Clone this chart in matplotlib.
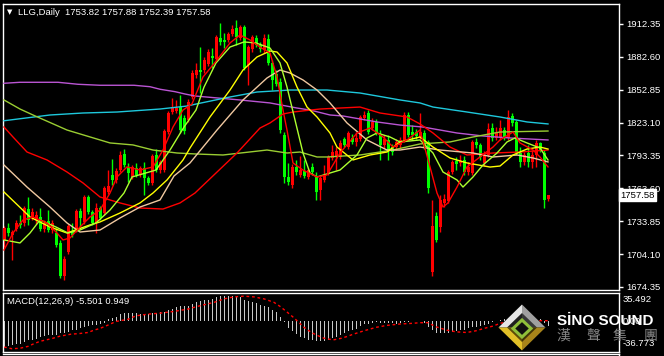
import matplotlib
matplotlib.use("Agg")
import matplotlib.pyplot as plt
from matplotlib.patches import Polygon
from matplotlib.lines import Line2D

plt.rcParams['font.family'] = ['Liberation Sans', 'DejaVu Sans']

# daily candles, LLG (red = up, green = down, MT4 chinese style)
opens = [
    1716.9, 1727.7, 1721.4, 1726.8, 1732.3, 1732.3, 1744.9, 1737.7, 1735.0, 1737.7,
    1726.8, 1734.1, 1725.9, 1723.2, 1714.2, 1684.3, 1706.0, 1724.1, 1726.8, 1743.1,
    1733.2, 1755.8, 1742.2, 1732.3, 1745.8, 1741.3, 1760.3, 1775.7, 1771.2, 1780.2,
    1794.7, 1782.9, 1773.9, 1782.0, 1775.7, 1782.0, 1773.0, 1768.5, 1793.8, 1780.2,
    1780.2, 1814.6, 1832.7, 1833.6, 1837.2, 1827.3, 1825.5, 1846.3, 1866.2, 1870.7,
    1870.7, 1876.2, 1883.4, 1880.7, 1899.7, 1897.9, 1897.9, 1903.3, 1908.7, 1899.7,
    1909.6, 1875.2, 1889.7, 1899.7, 1893.3, 1888.8, 1898.8, 1877.0, 1867.1, 1859.9,
    1811.9, 1773.9, 1766.6, 1782.9, 1775.7, 1779.3, 1773.9, 1782.9, 1773.9, 1762.1,
    1771.2, 1777.5, 1791.1, 1792.0, 1792.0, 1808.3, 1801.0, 1809.2, 1805.6, 1808.3,
    1827.3, 1831.8, 1818.2, 1823.7, 1811.9, 1802.9, 1807.4, 1801.0, 1801.0, 1802.9,
    1807.4, 1830.0, 1814.6, 1814.6, 1810.1, 1813.7, 1805.6, 1687.9, 1738.6, 1728.6,
    1750.4, 1752.2, 1778.4, 1788.4, 1786.6, 1789.3, 1778.4, 1777.5, 1805.6, 1802.9,
    1786.6, 1793.8, 1818.2, 1809.2, 1809.2, 1816.4, 1809.2, 1829.1, 1823.7, 1795.6,
    1787.5, 1795.6, 1787.5, 1793.8, 1804.7, 1795.6, 1753.82]
highs = [
    1729.5, 1732.3, 1725.9, 1735.0, 1739.5, 1747.6, 1755.8, 1745.8, 1743.1, 1745.8,
    1735.0, 1744.0, 1735.0, 1727.7, 1716.9, 1702.4, 1731.4, 1732.3, 1744.9, 1745.8,
    1757.6, 1757.6, 1744.0, 1750.4, 1747.6, 1765.7, 1780.2, 1790.2, 1782.0, 1797.4,
    1799.2, 1786.6, 1784.8, 1786.6, 1783.8, 1787.5, 1774.8, 1794.7, 1799.2, 1789.3,
    1817.3, 1833.6, 1845.4, 1843.6, 1848.1, 1830.0, 1844.5, 1870.7, 1877.1, 1891.5,
    1882.5, 1889.7, 1890.6, 1902.4, 1913.3, 1904.2, 1905.1, 1911.5, 1916.0, 1911.5,
    1911.5, 1893.3, 1902.4, 1902.4, 1896.1, 1903.3, 1903.3, 1879.8, 1870.7, 1863.5,
    1814.6, 1786.6, 1785.6, 1789.3, 1792.9, 1789.3, 1782.0, 1786.6, 1778.4, 1774.8,
    1784.8, 1793.8, 1802.9, 1801.0, 1807.4, 1810.1, 1815.5, 1812.8, 1814.6, 1830.0,
    1833.6, 1834.5, 1827.3, 1826.4, 1816.4, 1811.9, 1811.9, 1803.8, 1808.3, 1810.1,
    1832.7, 1832.7, 1820.9, 1817.3, 1831.8, 1816.4, 1807.4, 1753.1, 1742.2, 1757.6,
    1758.5, 1780.2, 1789.3, 1792.0, 1793.8, 1792.9, 1787.5, 1807.4, 1809.2, 1804.7,
    1797.4, 1822.7, 1822.7, 1819.1, 1825.5, 1819.1, 1834.5, 1831.8, 1825.5, 1801.0,
    1796.5, 1802.9, 1798.3, 1807.4, 1805.6, 1798.3, 1757.88]
lows = [
    1710.5, 1720.5, 1698.8, 1725.0, 1727.7, 1729.5, 1730.5, 1735.0, 1731.4, 1725.0,
    1724.1, 1724.1, 1723.2, 1710.5, 1682.5, 1680.7, 1704.2, 1719.6, 1724.1, 1728.6,
    1731.4, 1740.4, 1730.5, 1723.2, 1735.0, 1739.5, 1758.5, 1766.6, 1768.5, 1778.4,
    1782.9, 1769.4, 1772.1, 1773.9, 1773.9, 1757.6, 1766.6, 1766.6, 1778.4, 1777.5,
    1778.4, 1812.8, 1830.9, 1831.8, 1813.7, 1812.8, 1823.7, 1844.5, 1863.5, 1849.9,
    1868.0, 1874.3, 1872.5, 1878.9, 1893.3, 1890.6, 1896.1, 1901.5, 1893.3, 1897.9,
    1870.7, 1857.2, 1887.0, 1891.5, 1887.0, 1886.1, 1875.2, 1852.6, 1856.2, 1813.7,
    1768.5, 1766.6, 1763.9, 1775.7, 1773.9, 1773.0, 1772.1, 1775.7, 1753.1, 1753.1,
    1769.4, 1775.7, 1789.3, 1780.2, 1790.2, 1801.0, 1799.2, 1803.8, 1801.9, 1806.5,
    1825.5, 1812.8, 1816.4, 1811.9, 1789.3, 1800.1, 1789.3, 1793.8, 1798.3, 1800.1,
    1805.6, 1810.1, 1807.4, 1808.3, 1808.3, 1799.2, 1759.4, 1684.3, 1715.1, 1724.1,
    1746.7, 1750.4, 1776.6, 1780.2, 1783.8, 1775.7, 1775.7, 1775.7, 1800.1, 1789.3,
    1783.8, 1792.0, 1806.5, 1807.4, 1807.4, 1807.4, 1807.4, 1820.0, 1793.8, 1782.9,
    1784.8, 1782.9, 1782.0, 1782.9, 1796.5, 1745.6, 1752.39]
closes = [
    1727.7, 1723.2, 1724.1, 1732.3, 1730.5, 1745.8, 1735.0, 1742.2, 1739.5, 1726.8,
    1732.3, 1725.9, 1732.3, 1712.4, 1684.3, 1699.7, 1729.5, 1721.4, 1743.1, 1736.8,
    1755.8, 1742.2, 1732.3, 1745.8, 1736.8, 1763.9, 1765.7, 1771.2, 1779.3, 1793.8,
    1784.8, 1777.5, 1782.9, 1775.7, 1782.0, 1773.0, 1768.5, 1792.9, 1780.2, 1787.5,
    1815.5, 1831.8, 1837.2, 1836.3, 1816.4, 1815.5, 1841.8, 1868.0, 1870.7, 1868.9,
    1879.8, 1887.0, 1881.6, 1900.6, 1896.1, 1896.1, 1903.3, 1907.8, 1900.6, 1909.6,
    1872.5, 1891.5, 1900.6, 1893.3, 1889.7, 1899.7, 1877.0, 1861.7, 1858.1, 1816.4,
    1773.9, 1769.4, 1782.9, 1778.4, 1780.2, 1774.8, 1780.2, 1778.4, 1760.3, 1773.0,
    1775.7, 1792.0, 1796.5, 1797.4, 1804.7, 1802.9, 1813.7, 1805.6, 1809.2, 1828.2,
    1830.0, 1814.6, 1823.7, 1813.7, 1802.9, 1808.3, 1798.3, 1796.5, 1805.6, 1807.4,
    1830.0, 1811.9, 1811.9, 1811.0, 1814.6, 1801.0, 1763.9, 1729.5, 1716.9, 1753.1,
    1754.0, 1778.4, 1787.5, 1785.6, 1788.4, 1778.4, 1782.9, 1805.6, 1802.9, 1792.0,
    1793.8, 1817.3, 1809.2, 1813.7, 1818.2, 1810.1, 1828.2, 1822.8, 1795.6, 1787.5,
    1793.8, 1787.5, 1793.8, 1804.7, 1798.3, 1753.1, 1757.58]

# moving average lines (bar index, price)
ma_fast_x = [0, 2.25, 4.75, 7.25, 10.75, 13.25, 14.75, 16.5, 19, 21.5, 24, 26.5, 28.25, 30.75, 34,
             37.25, 39.75, 42.25, 44.75, 47, 49.75, 53.25, 56.5, 59, 61.5, 64, 66.5, 68.25, 69.75, 70.75,
             72.25, 74.75, 78.25, 80.75, 84, 88.25, 91.5, 94.75, 97.25, 100.75, 104, 106.5, 108.25, 109.75, 111,
             113.25, 115.75, 119, 122.25, 124, 127.25, 129, 132.25, 134, 136]
ma_fast_y = [1707.8, 1723.2, 1735.0, 1737.7, 1732.3, 1723.2, 1716.9, 1718.7, 1728.6, 1737.7,
             1744.0, 1759.4, 1773.9, 1783.0, 1780.2, 1783.0, 1798.3, 1819.1, 1834.5, 1840.0,
             1864.4, 1879.8, 1895.2, 1902.4, 1897.9, 1891.5, 1886.1, 1864.4, 1834.5, 1816.4,
             1786.6, 1780.2, 1773.9, 1775.7, 1795.6, 1813.7, 1818.2, 1810.1, 1801.0, 1807.4,
             1816.4, 1783.0, 1759.4, 1746.7, 1750.4, 1764.8, 1783.0, 1792.0, 1801.0, 1807.4,
             1814.6, 1804.7, 1798.3, 1792.0, 1783.0]

ma_lime_x = [0, 4, 6.5, 9, 13, 16, 19, 23, 26.5, 30, 32, 38, 41.5, 45, 48, 50, 53, 56.5, 60, 63,
             66.5, 69, 70.75, 72.75, 74.75, 76.5, 78.25, 81.5, 84, 88.25, 90.75, 93.25, 96.5, 99, 104,
             107.25, 109.75, 113.25, 114.75, 117.25, 119.75, 123.25, 125.75, 127.75, 130.75, 134, 136]
ma_lime_y = [1716.9, 1714.2, 1723.2, 1735.0, 1728.6, 1723.2, 1725.9, 1732.3, 1744.0, 1759.4,
             1773.9, 1780.2, 1798.3, 1819.1, 1834.5, 1855.3, 1877.1, 1891.5, 1896.1, 1895.2,
             1890.6, 1877.1, 1855.3, 1825.5, 1795.6, 1777.5, 1773.9, 1777.5, 1780.2, 1793.8,
             1809.2, 1813.7, 1810.1, 1805.6, 1807.4, 1795.6, 1778.4, 1771.2, 1764.8, 1773.9,
             1784.8, 1795.6, 1805.6, 1809.2, 1804.7, 1800.1, 1789.3]

ma_yellow_x = [0, 6.5, 11.5, 15.75, 21.5, 24, 29, 34, 37.25, 40.75, 44.75, 46.5, 51.5, 56.5, 59.75,
               63.25, 66.5, 68.25, 70.75, 73.25, 75.75, 78.25, 81.5, 83.25, 87.25, 91.5, 95.75, 99, 104,
               107.25, 111.5, 115.75, 121.5, 124, 127.25, 130.75, 134, 136]
ma_yellow_y = [1760.3, 1737.7, 1728.6, 1723.2, 1730.5, 1733.2, 1741.3, 1750.4, 1759.4, 1771.2,
               1789.3, 1800.1, 1828.2, 1852.6, 1870.7, 1882.5, 1887.9, 1887.0, 1877.1, 1855.3,
               1837.2, 1828.2, 1813.7, 1801.0, 1789.3, 1793.8, 1796.5, 1805.6, 1810.1, 1801.0,
               1791.1, 1786.6, 1782.9, 1783.8, 1793.8, 1799.2, 1801.0, 1799.2]

ma_tan_x = [0, 5.75, 11.5, 15.75, 19, 24, 29, 34, 39, 42.5, 46.5, 53.25, 59.75, 65.75, 69, 71.5,
            74.75, 78.25, 81.5, 85.75, 90.75, 95.75, 99, 104, 109, 117.25, 122.25, 128.25, 132.25, 136]
ma_tan_y = [1784.7, 1764.8, 1746.7, 1732.3, 1724.1, 1725.9, 1736.8, 1746.7, 1753.1, 1774.8,
            1786.6, 1816.4, 1843.6, 1863.5, 1870.7, 1868.0, 1861.7, 1852.6, 1840.9, 1822.8,
            1807.4, 1798.3, 1798.3, 1801.0, 1798.3, 1795.6, 1792.0, 1793.8, 1791.1, 1787.5]

ma_red_x = [0, 2.25, 5.75, 10.75, 15.75, 19.75, 24, 29, 34, 39.75, 44, 47.75, 58.25, 64, 66.5,
            69.75, 72.25, 79, 89, 94, 100.75, 104, 107.25, 111.5, 115.75, 122.25, 129, 136]
ma_red_y = [1819.1, 1810.1, 1796.5, 1789.3, 1778.4, 1768.5, 1755.8, 1750.4, 1745.8, 1744.9,
            1750.4, 1759.4, 1795.6, 1818.2, 1822.8, 1830.9, 1832.7, 1835.4, 1837.2, 1831.8,
            1828.2, 1821.9, 1813.7, 1801.0, 1793.8, 1795.6, 1796.5, 1798.3]

ma_olive_x = [0, 4, 7.25, 15.75, 26.5, 32.25, 37.25, 43.25, 48, 54.75, 65.75, 70.75, 74, 78.25,
              80.75, 89, 97.25, 104, 111.5, 117.25, 124, 136]
ma_olive_y = [1843.6, 1835.4, 1830.0, 1816.4, 1804.7, 1802.9, 1798.3, 1795.6, 1794.7, 1793.8,
              1798.3, 1795.6, 1796.5, 1792.0, 1792.0, 1793.8, 1798.3, 1803.8, 1805.6, 1810.1,
              1814.6, 1815.5]

ma_cyan_x = [0, 11.5, 19.75, 28.25, 39, 45.75, 48, 56.5, 63.25, 71.5, 80.75, 89, 99, 104, 107.25,
             115.75, 124, 130.75, 136]
ma_cyan_y = [1824.8, 1830.0, 1831.8, 1832.7, 1835.4, 1838.1, 1839.9, 1846.3, 1850.8, 1852.6,
             1852.6, 1849.9, 1843.6, 1840.9, 1837.2, 1832.7, 1828.2, 1823.7, 1821.9]

ma_purple_x = [0, 4, 13.5, 18.5, 24, 32.5, 36.5, 39, 42.75, 45.25, 47.75, 59, 66.5, 73.25, 76.5,
               81.5, 84.75, 93.25, 99, 104.75, 113.25, 119.75, 126.5, 136]
ma_purple_y = [1858.7, 1859.6, 1859.6, 1857.8, 1856.9, 1856.9, 1855.6, 1853.3, 1851.1, 1849.0,
               1847.2, 1843.6, 1840.9, 1836.3, 1834.5, 1830.0, 1829.1, 1823.7, 1820.9, 1819.1,
               1813.7, 1811.0, 1809.2, 1807.4]

# MACD(12,26,9) main value per bar and signal line
macd_hist = [
    -31.3, -30.5, -29.3, -28.0, -27.2, -25.1, -23.0, -22.2, -20.9, -18.9,
    -18.0, -16.8, -16.8, -16.0, -14.7, -14.0, -12.7, -10.6, -10.0, -8.5,
    -7.3, -5.2, -4.4, -4.4, -3.1, -1.5, 2.5, 3.7, 5.4, 9.0,
    10.2, 10.2, 10.2, 10.2, 9.6, 9.2, 9.6, 10.2, 10.2, 11.0,
    11.4, 13.5, 15.2, 17.7, 18.6, 18.6, 19.3, 21.8, 23.4, 24.7,
    25.9, 26.8, 27.7, 30.1, 30.9, 31.6, 30.9, 30.9, 30.9, 30.1,
    25.9, 24.7, 23.4, 22.6, 20.6, 19.3, 17.7, 13.5, 11.0, 6.0,
    -1.0, -7.5, -11.5, -15.5, -18.5, -20.7, -22.6, -22.6, -23.9, -23.9,
    -23.9, -22.6, -20.7, -18.5, -16.4, -14.3, -11.4, -10.2, -9.0, -6.0,
    -3.5, -2.5, -1.7, -1.0, -2.0, -2.0, -1.7, -2.0, -2.5, -1.7,
    -1.0, -0.5, 0.5, 0.5, 0.3, -1.5, -6.5, -10.6, -14.0, -14.7,
    -14.7, -14.0, -12.7, -11.4, -10.6, -10.0, -8.5, -7.3, -6.5, -5.6,
    -4.4, -3.0, -1.0, 0.5, 2.0, 3.0, 4.0, 5.0, 4.5, 3.5,
    3.0, 3.0, 2.5, 3.0, 3.0, -1.5, -5.5]
signal_x = [0, 2, 4, 6, 7.5, 9, 12, 14, 16.7, 19, 21, 22.5, 24, 26, 28, 31, 33, 36, 39, 42.5, 46, 49,
            52.5, 55, 57.5, 60, 62.5, 65, 67.5, 69, 70.7, 72.3, 73.6, 75, 76.7, 78, 80, 82.3, 84.4,
            85.7, 87.3, 90, 93, 95.7, 99, 102, 104, 106, 108, 110.7, 113, 115.7, 118, 120, 122.3,
            124, 126.5, 132, 136]
signal_y = [-31.3, -33.4, -32.8, -30.5, -27.2, -24.3, -20.9, -18.0, -15.6, -14.7, -13.5, -10.6,
            -8.5, -4.4, 0.0, 2.7, 6.9, 9.0, 10.2, 12.3, 15.2, 19.3, 23.4, 27.7, 30.1, 31.0, 30.1,
            27.7, 23.4, 18.5, 11.8, 5.2, -0.6, -7.2, -13.0, -16.4, -20.5, -22.6, -20.5, -18.5,
            -15.6, -11.4, -7.2, -4.8, -3.1, -2.3, -1.5, -1.5, -6.5, -10.6, -12.7, -13.5, -11.4,
            -8.5, -5.6, -2.3, 0.0, 1.0, 0.949]

price_ticks = [1674.35, 1704.10, 1733.85, 1763.60, 1793.35, 1823.10, 1852.85, 1882.60, 1912.35]
macd_labels = ['35.492', '0.00', '-36.773']

W, H = 664, 356
fig = plt.figure(figsize=(W / 100, H / 100), dpi=100, facecolor='black')


def box(x0, y0, x1, y1):
    # pixel box (from top left) -> axes
    return fig.add_axes([x0 / W, 1 - y1 / H, (x1 - x0) / W, (y1 - y0) / H])


ax = box(3, 4, 619, 289.5)
ax.set_facecolor('black')
ax.set_xlim(-0.25, 153.75)
ax.set_ylim(1672.07, 1930.45)

n = len(opens)
xs = list(range(n))
cols = ['#ff0000' if closes[i] > opens[i] else '#00ff00' for i in xs]
ax.vlines(xs, lows, highs, colors=cols, lw=1, zorder=2)
bottoms = [min(opens[i], closes[i]) for i in xs]
heights = [max(abs(closes[i] - opens[i]), 0.9) for i in xs]
ax.bar(xs, heights, bottom=bottoms, width=0.75, color=cols, lw=0, zorder=3)

# moving averages drawn on top of the bars
ax.plot(ma_purple_x, ma_purple_y, color='#ba55d3', lw=1, zorder=4)
ax.plot(ma_cyan_x, ma_cyan_y, color='#1ec8dc', lw=1, zorder=4)
ax.plot(ma_olive_x, ma_olive_y, color='#9acd32', lw=1, zorder=4)
ax.plot(ma_red_x, ma_red_y, color='#ff0000', lw=1, zorder=4)
ax.plot(ma_tan_x, ma_tan_y, color='#f0c8a0', lw=1, zorder=4)
ax.plot(ma_yellow_x, ma_yellow_y, color='#ffff00', lw=1, zorder=4)
ax.plot(ma_lime_x, ma_lime_y, color='#adff2f', lw=1, zorder=4)
ax.plot(ma_fast_x, ma_fast_y, color='#ff0000', lw=1, zorder=4)

ax.yaxis.tick_right()
ax.set_yticks(price_ticks)
ax.set_yticklabels([f'{v:.2f}' for v in price_ticks])
ax.tick_params(axis='y', colors='white', labelsize=6.8, length=3, width=1, pad=2)
ax.set_xticks([])
for s in ax.spines.values():
    s.set_color('white')
    s.set_linewidth(1)

# last price tag
ax.text(1.002, closes[-1], f'{closes[-1]:.2f}', transform=ax.get_yaxis_transform(),
        ha='left', va='center', fontsize=6.8, color='black', clip_on=False, zorder=10,
        bbox=dict(boxstyle='square,pad=0.15', fc='white', ec='white'))

# MACD window
mx = box(3, 292.5, 619, 351.5)
mx.set_facecolor('black')
mx.set_xlim(-0.25, 153.75)
mx.set_ylim(-36.773, 35.492)
mx.bar(xs, macd_hist, width=0.25, color='#c8c8c8', lw=0)
mx.plot(signal_x, signal_y, color='#ff0000', lw=1, ls=(0, (2, 2)))
mx.set_xticks([])
mx.set_yticks([])
for s in mx.spines.values():
    s.set_color('white')
    s.set_linewidth(1)

# third (empty) window edge at the bottom
fig.add_artist(Line2D([3 / W, 619 / W], [1 - 354 / H] * 2, color='white', lw=1))
fig.add_artist(Line2D([619 / W, 619 / W], [0, 1 - 354 / H], color='white', lw=1))

# texts and logo on a pixel overlay
lay = fig.add_axes([0, 0, 1, 1])
lay.set_xlim(0, W)
lay.set_ylim(H, 0)
lay.axis('off')
lay.patch.set_alpha(0)

lay.text(7, 12.5, '\u25bc', fontsize=5, color='white', va='center', family=['DejaVu Sans'])
lay.text(18, 12.5, 'LLG,Daily  1753.82 1757.88 1752.39 1757.58', fontsize=6.8,
         color='white', va='center')
lay.text(7, 301.5, 'MACD(12,26,9) -5.501 0.949', fontsize=6.8, color='white', va='center')
for lab, yy in zip(macd_labels, [300, 322, 343]):
    lay.text(623, yy, lab, fontsize=6.8, color='white', va='center')

# SINO SOUND diamond
cx, cy, hw, hh = 522, 327.5, 23.5, 23
faces = [('#e6e6e6', [(cx - hw, cy), (cx, cy - hh), (cx, cy)]),
         ('#a0a0a0', [(cx, cy - hh), (cx + hw, cy), (cx, cy)]),
         ('#e2c028', [(cx - hw, cy), (cx, cy + hh), (cx, cy)]),
         ('#a8841a', [(cx + hw, cy), (cx, cy + hh), (cx, cy)])]
for fc, pts in faces:
    lay.add_patch(Polygon(pts, closed=True, fc=fc, ec='none'))
iw, ih = 15, 14.5
inner = [('#202020', [(cx - iw, cy), (cx, cy - ih), (cx, cy)]),
         ('#383838', [(cx, cy - ih), (cx + iw, cy), (cx, cy)]),
         ('#5c4c08', [(cx - iw, cy), (cx, cy + ih), (cx, cy)]),
         ('#403406', [(cx + iw, cy), (cx, cy + ih), (cx, cy)])]
for fc, pts in inner:
    lay.add_patch(Polygon(pts, closed=True, fc=fc, ec='none'))
gw, gh = 9, 8.5
lay.add_patch(Polygon([(cx - gw, cy + 1), (cx, cy + 1 - gh), (cx + gw, cy + 1), (cx, cy + 1 + gh)],
                      closed=True, fc='#101010', ec='#8fbf3a', lw=2.2))

lay.text(557, 325, 'S\u0130NO SOUND', fontsize=11, fontweight='bold', color='white', va='baseline')
for ch, xc in zip(['漢', '聲', '集', '團'], [563, 593, 620, 651]):
    lay.text(xc, 336, ch, fontsize=10, color='#858585', ha='center', va='center',
             family=['Noto Sans CJK TC'])

fig.savefig('out.png', dpi=100, facecolor='black')
